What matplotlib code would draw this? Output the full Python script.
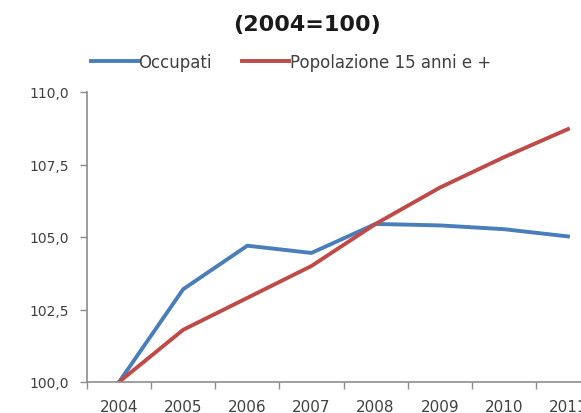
import matplotlib
matplotlib.use("Agg")
import matplotlib.pyplot as plt
from matplotlib.ticker import FixedLocator, FuncFormatter

# -----------------------------
# Data (index 2004=100)
# -----------------------------
anni = ["2004", "2005", "2006", "2007", "2008", "2009", "2010", "2011"]
occupati = [100.0, 103.2, 104.7, 104.45, 105.45, 105.4, 105.27, 105.02]
popolazione = [100.0, 101.8, 102.9, 104.0, 105.45, 106.7, 107.75, 108.72]

blu = "#4A7EBB"
rosso = "#BE4B48"
grigio = "#8C8C8C"
testo = "#404040"

fig = plt.figure(figsize=(5.81, 4.14), dpi=100)
ax = fig.add_axes([87 / 581, 1 - 383 / 414, 513 / 581, 290 / 414])

x = range(len(anni))
ax.plot(x, occupati, color=blu, lw=2.8, label="Occupati", solid_joinstyle="miter")
ax.plot(x, popolazione, color=rosso, lw=2.8, label="Popolazione 15 anni e +",
        solid_joinstyle="miter")

ax.set_xlim(-0.5, len(anni) - 0.5)
ax.set_ylim(100, 110)

# y axis
ax.set_yticks([100, 102.5, 105, 107.5, 110])
ax.yaxis.set_major_formatter(FuncFormatter(lambda v, p: f"{v:.1f}".replace(".", ",")))
ax.tick_params(axis="y", length=5, width=1, color=grigio, labelsize=10,
               labelcolor=testo, pad=8)

# x axis: labels at centres, tick marks at category boundaries
ax.set_xticks(list(x))
ax.set_xticklabels(anni)
ax.xaxis.set_minor_locator(FixedLocator([i + 0.5 for i in range(-1, len(anni))]))
ax.tick_params(axis="x", which="major", length=0, labelsize=11, labelcolor=testo, pad=12)
ax.tick_params(axis="x", which="minor", length=5, width=1, color=grigio)

for s in ["top", "right"]:
    ax.spines[s].set_visible(False)
for s in ["left", "bottom"]:
    ax.spines[s].set_color(grigio)
    ax.spines[s].set_linewidth(1.2)

fig.text(307 / 581, 1 - 25 / 414, "(2004=100)", ha="center", va="center",
         fontsize=16, fontweight="bold", color="#1a1a1a")

fig.legend(loc="center", bbox_to_anchor=(291 / 581, 1 - 63 / 414), ncol=2,
           frameon=False, fontsize=12, handlelength=2.8, handletextpad=0.05,
           columnspacing=1.8, labelcolor=testo)

fig.savefig("out.png", dpi=100)
